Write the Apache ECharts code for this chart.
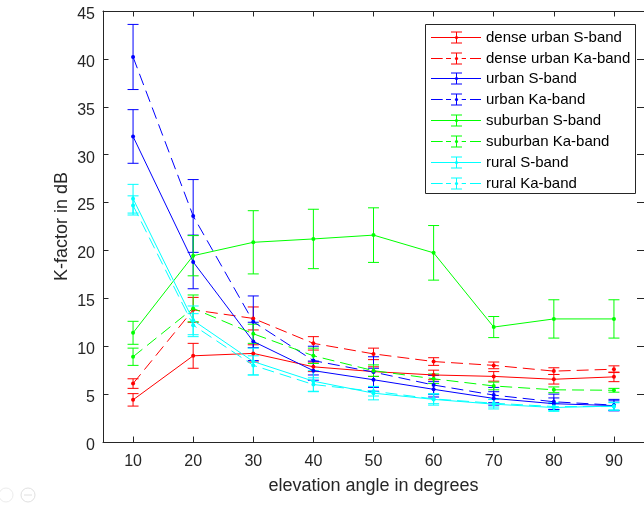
<!DOCTYPE html>
<html>
<head>
<meta charset="utf-8">
<script src="https://cdn.jsdelivr.net/npm/echarts@6/dist/echarts.min.js"></script>
<style>html,body{margin:0;padding:0;background:#fff;}#c{width:644px;height:506px;}</style>
</head>
<body>
<div id="c"></div>
<script>
var elevation = [10, 20, 30, 40, 50, 60, 70, 80, 90];
var xTicks = [10, 20, 30, 40, 50, 60, 70, 80, 90];

var denseUrbanS  = [4.4, 9.0, 9.25, 7.85, 7.35, 7.0, 6.85, 6.55, 6.8];
var denseUrbanKa = [6.1, 13.8, 12.9, 10.3, 9.2, 8.4, 8.0, 7.4, 7.6];
var urbanS       = [31.9, 18.8, 10.5, 7.45, 6.5, 5.5, 4.55, 4.0, 3.8];
var urbanKa      = [40.2, 23.6, 12.55, 8.5, 7.3, 5.95, 4.9, 4.2, 3.85];
var suburbanS    = [11.4, 19.45, 20.85, 21.2, 21.6, 19.75, 12.0, 12.85, 12.85];
var suburbanKa   = [8.9, 13.95, 11.3, 9.0, 7.45, 6.6, 5.85, 5.45, 5.4];
var ruralS       = [25.4, 12.7, 8.4, 6.35, 5.1, 4.45, 3.95, 3.6, 3.75];
var ruralKa      = [24.7, 12.2, 8.0, 6.0, 5.3, 4.5, 4.05, 3.7, 3.7];

var errDenseUrbanS  = [0.65, 1.3, 0.9, 0.5, 0.5, 0.5, 0.5, 0.5, 0.5];
var errDenseUrbanKa = [0.5, 1.3, 1.2, 0.7, 0.6, 0.4, 0.35, 0.35, 0.35];
var errUrbanS       = [2.8, 2.8, 2.0, 1.0, 1.2, 0.8, 0.7, 0.6, 0.5];
var errUrbanKa      = [3.4, 3.8, 2.7, 1.5, 1.6, 1.0, 0.8, 0.8, 0.6];
var errSuburbanS    = [1.2, 2.1, 3.3, 3.1, 2.85, 2.85, 1.1, 2.0, 2.0];
var errSuburbanKa   = [0.9, 1.4, 1.0, 0.8, 0.6, 0.5, 0.4, 0.3, 0.2];
var errRuralS       = [1.5, 1.5, 1.4, 1.1, 0.7, 0.6, 0.5, 0.4, 0.4];
var errRuralKa      = [1.0, 1.2, 1.0, 0.7, 0.5, 0.5, 0.4, 0.4, 0.4];

var seriesNames = ['dense urban S-band', 'dense urban Ka-band', 'urban S-band', 'urban Ka-band',
                   'suburban S-band', 'suburban Ka-band', 'rural S-band', 'rural Ka-band'];

var defs = [
  {name: seriesNames[0], v: denseUrbanS,  e: errDenseUrbanS,  color: '#ff0000', dashed: false},
  {name: seriesNames[1], v: denseUrbanKa, e: errDenseUrbanKa, color: '#ff0000', dashed: true},
  {name: seriesNames[2], v: urbanS,       e: errUrbanS,       color: '#0000ff', dashed: false},
  {name: seriesNames[3], v: urbanKa,      e: errUrbanKa,      color: '#0000ff', dashed: true},
  {name: seriesNames[4], v: suburbanS,    e: errSuburbanS,    color: '#00ff00', dashed: false},
  {name: seriesNames[5], v: suburbanKa,   e: errSuburbanKa,   color: '#00ff00', dashed: true},
  {name: seriesNames[6], v: ruralS,       e: errRuralS,       color: '#00ffff', dashed: false},
  {name: seriesNames[7], v: ruralKa,      e: errRuralKa,      color: '#00ffff', dashed: true}
];

var FONT = 'Liberation Sans, Arial, sans-serif';
var series = [];
defs.forEach(function (d) {
  var color = d.color;
  series.push({
    name: d.name + ' err',
    type: 'custom',
    xAxisIndex: 0, yAxisIndex: 0,
    silent: true,
    data: elevation.map(function (x, i) { return [x, d.v[i] - d.e[i], d.v[i] + d.e[i]]; }),
    encode: {x: 0, y: [1, 2]},
    renderItem: function (params, api) {
      var x = api.value(0), lo = api.value(1), hi = api.value(2);
      var p1 = api.coord([x, hi]), p2 = api.coord([x, lo]);
      var w = 5.5;
      var st = {stroke: color, lineWidth: 1, fill: null};
      return {type: 'group', children: [
        {type: 'line', shape: {x1: p1[0], y1: p1[1], x2: p2[0], y2: p2[1]}, style: st},
        {type: 'line', shape: {x1: p1[0] - w, y1: p1[1], x2: p1[0] + w, y2: p1[1]}, style: st},
        {type: 'line', shape: {x1: p2[0] - w, y1: p2[1], x2: p2[0] + w, y2: p2[1]}, style: st}
      ]};
    },
    z: 2
  });
  series.push({
    name: d.name,
    type: 'line',
    color: color,
    xAxisIndex: 0, yAxisIndex: 0,
    data: elevation.map(function (x, i) { return [x, d.v[i]]; }),
    symbol: 'circle',
    symbolSize: 4,
    showSymbol: true,
    silent: true,
    lineStyle: {color: color, width: 1, type: d.dashed ? [12, 6] : 'solid'},
    itemStyle: {color: color, borderWidth: 0},
    z: 3
  });
});

// legend drawn as graphic elements (MATLAB style box)
var legendChildren = [{
  type: 'rect', shape: {x: 425.5, y: 24.5, width: 210, height: 169},
  style: {fill: '#ffffff', stroke: '#262626', lineWidth: 1}
}];
defs.forEach(function (d, i) {
  var yc = Math.round(36.7 + i * 20.85) + 0.5;
  var st = {stroke: d.color, lineWidth: 1};
  var segs = d.dashed ? [[431, 442.7], [446, 451], [461.7, 466], [470, 481]] : [[431, 481]];
  segs.forEach(function (s) {
    legendChildren.push({type: 'line', shape: {x1: s[0], y1: yc, x2: s[1], y2: yc}, style: st});
  });
  legendChildren.push({type: 'line', shape: {x1: 456.5, y1: yc - 5.5, x2: 456.5, y2: yc + 5.5}, style: st});
  legendChildren.push({type: 'line', shape: {x1: 451, y1: yc - 5.5, x2: 462, y2: yc - 5.5}, style: st});
  legendChildren.push({type: 'line', shape: {x1: 451, y1: yc + 5.5, x2: 462, y2: yc + 5.5}, style: st});
  legendChildren.push({type: 'circle', shape: {cx: 456.5, cy: yc, r: 1.6}, style: {fill: d.color}});
  legendChildren.push({type: 'text', x: 486, y: yc,
    style: {text: d.name, fill: '#000000', font: '15px ' + FONT, textVerticalAlign: 'middle', verticalAlign: 'middle', textAlign: 'left'}});
});

var chart = echarts.init(document.getElementById('c'), null, {renderer: 'canvas'});
chart.setOption({
  animation: false,
  backgroundColor: '#ffffff',
  textStyle: {fontFamily: FONT},
  grid: {left: 103, top: 11, width: 547, height: 431, containLabel: false},
  xAxis: [{
    type: 'value', min: 5, max: 95, position: 'bottom',
    name: 'elevation angle in degrees', nameLocation: 'middle', nameGap: 35,
    nameTextStyle: {fontSize: 18, color: '#262626', fontFamily: FONT},
    axisLine: {show: true, onZero: false, lineStyle: {color: '#262626', width: 1}},
    axisTick: {show: true, inside: true, length: 5.5, customValues: xTicks, lineStyle: {color: '#262626'}},
    axisLabel: {show: true, customValues: xTicks, fontSize: 16, color: '#262626', margin: 12, fontFamily: FONT},
    splitLine: {show: false}
  }, {
    type: 'value', min: 5, max: 95, position: 'top',
    axisLine: {show: true, onZero: false, lineStyle: {color: '#262626', width: 1}},
    axisTick: {show: true, inside: true, length: 5.5, customValues: xTicks, lineStyle: {color: '#262626'}},
    axisLabel: {show: false},
    splitLine: {show: false}
  }],
  yAxis: [{
    type: 'value', min: 0, max: 45, interval: 5, position: 'left',
    name: 'K-factor in dB', nameLocation: 'middle', nameGap: 32, nameMoveOverlap: false,
    nameTextStyle: {fontSize: 18, color: '#262626', fontFamily: FONT},
    axisLine: {show: true, onZero: false, lineStyle: {color: '#262626', width: 1}},
    axisTick: {show: true, inside: true, length: 5.5, lineStyle: {color: '#262626'}},
    axisLabel: {fontSize: 16, color: '#262626', margin: 8, fontFamily: FONT, verticalAlign: 'top', lineHeight: 7},
    splitLine: {show: false}
  }, {
    type: 'value', min: 0, max: 45, interval: 5, position: 'right',
    axisLine: {show: true, onZero: false, lineStyle: {color: '#262626', width: 1}},
    axisTick: {show: true, inside: true, length: 7, lineStyle: {color: '#262626'}},
    axisLabel: {show: false},
    splitLine: {show: false}
  }],
  graphic: [
    {type: 'group', z: 100, children: legendChildren},
    {type: 'circle', shape: {cx: 28, cy: 495, r: 7}, style: {fill: 'none', stroke: '#e0e0e0', lineWidth: 1}, silent: true},
    {type: 'line', shape: {x1: 24, y1: 495, x2: 32, y2: 495}, style: {stroke: '#e0e0e0', lineWidth: 1}, silent: true},
    {type: 'circle', shape: {cx: 6, cy: 495, r: 7}, style: {fill: 'none', stroke: '#ececec', lineWidth: 1}, silent: true}
  ],
  series: series
});
</script>
</body>
</html>
